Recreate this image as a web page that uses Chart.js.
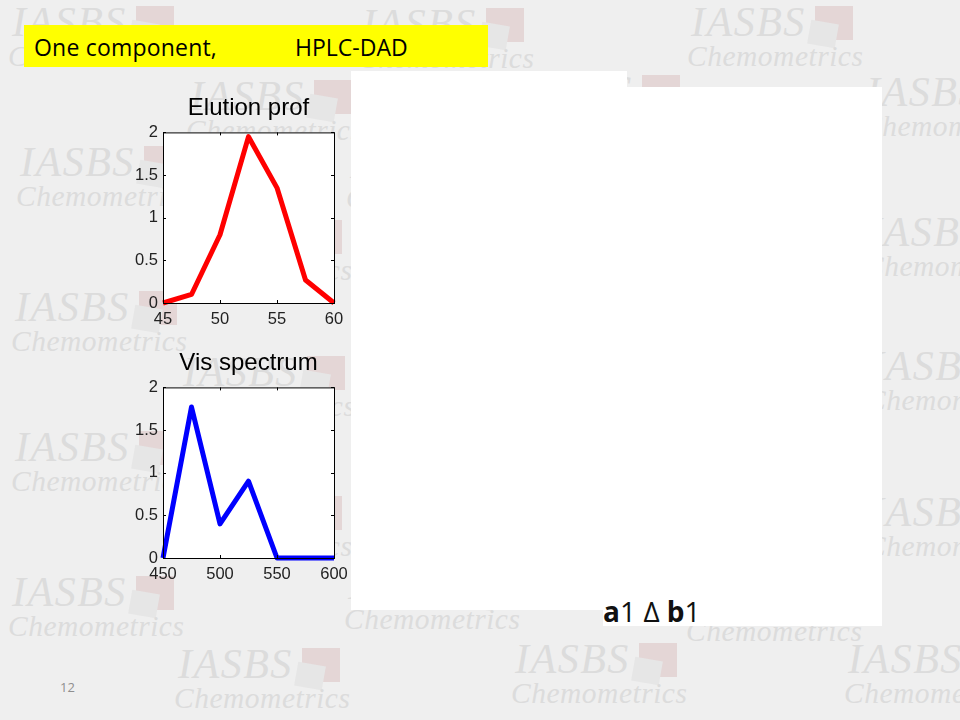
<!DOCTYPE html>
<html>
<head>
<meta charset="utf-8">
<script src="https://cdn.jsdelivr.net/npm/chart.js@4"></script>
<style>
html, body { margin: 0; padding: 0; }
body { width: 960px; height: 720px; background: #efefef; position: relative; overflow: hidden; }
.logo { position: absolute; width: 190px; height: 90px; }
.logo .name { position: absolute; left: 0; top: -10px; font: italic 42px "Liberation Serif"; color: #dcdcdc; letter-spacing: 1.5px; }
.logo .sub { position: absolute; left: -4px; top: 32px; font: italic 29.5px "Liberation Serif"; color: #dcdcdc; letter-spacing: 0.5px; white-space: nowrap; }
.logo .sq { position: absolute; left: 124px; top: -2px; width: 38px; height: 34px; background: #e4d6d6; }
.logo .sq2 { position: absolute; left: 118px; top: 14px; width: 28px; height: 24px; background: #e6e6e6; transform: rotate(10deg); }
.panel { position: absolute; background: #fff; }
.banner { position: absolute; left: 24px; top: 25px; width: 464px; height: 42px; background: #ffff00; font: 23px "Open Sans"; color: #000; line-height: 45px; }
.banner span { position: absolute; top: 0; white-space: nowrap; }
.formula { position: absolute; left: 603px; top: 592px; font: 28px "Open Sans"; color: #111; white-space: nowrap; }
.page-no { position: absolute; left: 60px; top: 678px; font: 13px "Open Sans"; color: #8f8f8f; }
canvas { position: absolute; }
</style>
</head>
<body>
<div id="logos"></div>
<div class="panel" style="left:351px;top:71px;width:276px;height:539px"></div>
<div class="panel" style="left:603px;top:87px;width:279px;height:539px"></div>
<div class="banner"><span style="left:10px;letter-spacing:0.2px">One component,</span><span style="left:271px">HPLC-DAD</span></div>
<canvas id="elution" width="257" height="240" style="left:120px;top:90px"></canvas>
<canvas id="spectrum" width="257" height="240" style="left:120px;top:345px"></canvas>
<div class="formula"><b>a</b>1 ∆ <b>b</b>1</div>
<div class="page-no">12</div>
<script>
const elutionX = [45, 47.5, 50, 52.5, 55, 57.5, 60];
const elutionY = [0, 0.1, 0.8, 1.95, 1.35, 0.27, 0];
const elutionTicks = [45, 50, 55, 60];

const spectrumX = [450, 475, 500, 525, 550, 575, 600];
const spectrumY = [0, 1.77, 0.4, 0.9, 0, 0, 0];
const spectrumTicks = [450, 500, 550, 600];

const yTicks = [0, 0.5, 1, 1.5, 2];

// background logos, left/top of each one
const logoSpots = [
	[12, 8], [362, 10], [691, 8], [190, 82], [518, 77], [866, 78], [20, 148],
	[350, 150], [180, 222], [868, 218], [15, 293], [183, 358], [870, 352],
	[15, 433], [180, 498], [870, 498], [12, 578], [348, 571], [690, 583],
	[178, 650], [515, 645], [848, 645]
];

const logosEl = document.getElementById('logos');
logoSpots.forEach((spot) => {
	const logo = document.createElement('div');
	logo.className = 'logo';
	logo.style.left = spot[0] + 'px';
	logo.style.top = spot[1] + 'px';
	logo.innerHTML = '<div class="sq"></div><div class="sq2"></div><div class="name">IASBS</div><div class="sub">Chemometrics</div>';
	logosEl.appendChild(logo);
});

/* white plot box, drawn under the line */
const plotBox = {
	id: 'plotBox',
	beforeDatasetsDraw(chart) {
		const a = chart.chartArea;
		chart.ctx.save();
		chart.ctx.fillStyle = '#ffffff';
		chart.ctx.fillRect(a.left, a.top, a.right - a.left, a.bottom - a.top);
		chart.ctx.restore();
	},
	afterDatasetsDraw(chart) {
		// inward ticks on all four sides, the scales give the positions
		const a = chart.chartArea;
		const ctx = chart.ctx;
		ctx.save();
		ctx.strokeStyle = '#000000';
		ctx.lineWidth = 1;
		ctx.strokeRect(a.left + 0.5, a.top + 0.5, a.right - a.left, a.bottom - a.top);
		ctx.beginPath();
		chart.scales.x.ticks.forEach((t) => {
			const px = Math.round(chart.scales.x.getPixelForValue(t.value)) + 0.5;
			ctx.moveTo(px, a.top);
			ctx.lineTo(px, a.top + 3);
			ctx.moveTo(px, a.bottom);
			ctx.lineTo(px, a.bottom - 3);
		});
		chart.scales.y.ticks.forEach((t) => {
			const py = Math.round(chart.scales.y.getPixelForValue(t.value)) + 0.5;
			ctx.moveTo(a.left, py);
			ctx.lineTo(a.left + 3, py);
			ctx.moveTo(a.right, py);
			ctx.lineTo(a.right - 3, py);
		});
		ctx.stroke();
		ctx.restore();
	}
};

function makeChart(id, title, xs, ys, xTicks, color) {
	return new Chart(document.getElementById(id), {
		type: 'line',
		data: {
			datasets: [{
				data: xs.map((x, i) => ({ x: x, y: ys[i] })),
				borderColor: color,
				borderWidth: 5,
				borderJoinStyle: 'round',
				tension: 0,
				pointRadius: 0,
				clip: false
			}]
		},
		options: {
			animation: false,
			responsive: false,
			layout: { padding: { left: 0, right: 43, top: 0, bottom: 0 } },
			scales: {
				x: {
					type: 'linear',
					min: xTicks[0],
					max: xTicks[xTicks.length - 1],
					grid: { display: false, drawTicks: false, tickLength: 0 },
					border: { display: false },
					afterBuildTicks: (s) => { s.ticks = xTicks.map((v) => ({ value: v })); },
					afterFit: (s) => { s.height = 27; },
					ticks: {
						autoSkip: false,
						maxRotation: 0,
						padding: 7,
						color: '#222222',
						font: { family: 'Liberation Sans', size: 16.5 },
						callback: (v) => String(v)
					}
				},
				y: {
					type: 'linear',
					min: 0,
					max: 2,
					grid: { display: false, drawTicks: false, tickLength: 0 },
					border: { display: false },
					afterBuildTicks: (s) => { s.ticks = yTicks.map((v) => ({ value: v })); },
					afterFit: (s) => { s.width = 43; },
					ticks: {
						autoSkip: false,
						padding: 5,
						color: '#222222',
						font: { family: 'Liberation Sans', size: 16.5 },
						callback: (v) => String(v)
					}
				}
			},
			plugins: {
				legend: { display: false },
				tooltip: { enabled: false },
				title: {
					display: true,
					fullSize: false,
					text: title,
					color: '#000000',
					font: { family: 'Liberation Sans', size: 24, weight: 'normal' },
					padding: { top: 3.6, bottom: 10 }
				}
			}
		},
		plugins: [plotBox]
	});
}

makeChart('elution', 'Elution prof', elutionX, elutionY, elutionTicks, '#ff0000');
makeChart('spectrum', 'Vis spectrum', spectrumX, spectrumY, spectrumTicks, '#0000ff');
</script>
</body>
</html>
